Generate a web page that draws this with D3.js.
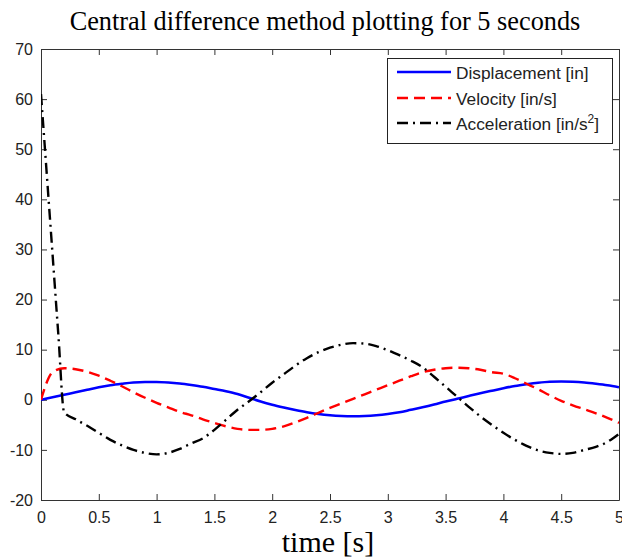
<!DOCTYPE html>
<head>
	<meta charset="utf-8">
	<script src="https://d3js.org/d3.v7.min.js"></script>
	<style>
		body { margin: 0; background: #fff; }
		.title { font-family: "Liberation Serif", "Times New Roman", serif; font-size: 26.3px; fill: #000; }
		.xlabel { font-family: "Liberation Serif", "Times New Roman", serif; font-size: 30px; fill: #000; }
		.tick text { font-family: "Liberation Sans", Arial, sans-serif; font-size: 16px; fill: #222; }
		.legend text { font-family: "Liberation Sans", Arial, sans-serif; font-size: 17.3px; fill: #222; }
	</style>
</head>
<body>
	<script>
		// data
		var time = [0, 0.1, 0.2, 0.3, 0.4, 0.5, 0.6, 0.7, 0.8, 0.9, 1.0,
			1.1, 1.2, 1.3, 1.4, 1.5, 1.6, 1.7, 1.8, 1.9, 2.0,
			2.1, 2.2, 2.3, 2.4, 2.5, 2.6, 2.7, 2.8, 2.9, 3.0,
			3.1, 3.2, 3.3, 3.4, 3.5, 3.6, 3.7, 3.8, 3.9, 4.0,
			4.1, 4.2, 4.3, 4.4, 4.5, 4.6, 4.7, 4.8, 4.9, 5.0];
		var displacement = [0, 0.5, 1.0, 1.5, 2.0, 2.5, 2.9, 3.2, 3.45, 3.55, 3.55,
			3.45, 3.25, 2.95, 2.6, 2.15, 1.7, 1.15, 0.4, -0.35, -1.0,
			-1.55, -2.05, -2.5, -2.85, -3.1, -3.25, -3.3, -3.25, -3.1, -2.85,
			-2.5, -2.0, -1.5, -0.95, -0.35, 0.2, 0.75, 1.3, 1.8, 2.3,
			2.75, 3.1, 3.4, 3.6, 3.65, 3.6, 3.45, 3.2, 2.9, 2.5];
		var velocity = [0, 5.5, 6.3, 6.1, 5.6, 4.8, 3.8, 2.7, 1.5, 0.4, -0.6,
			-1.5, -2.4, -3.1, -3.9, -4.6, -5.3, -5.8, -6.0, -6.0, -5.8,
			-5.3, -4.5, -3.6, -2.6, -1.6, -0.7, 0.2, 1.1, 2.0, 2.9,
			3.8, 4.7, 5.5, 6.0, 6.3, 6.4, 6.3, 6.0, 5.5, 5.2,
			4.3, 3.2, 2.1, 0.9, -0.2, -1.1, -1.9, -2.7, -3.6, -4.6];
		var accelTime = [0, 0.05, 0.1, 0.15, 0.2, 0.3, 0.4, 0.5, 0.6, 0.7, 0.8, 0.9, 1.0,
			1.1, 1.2, 1.3, 1.4, 1.5, 1.6, 1.7, 1.8, 1.9, 2.0,
			2.1, 2.2, 2.3, 2.4, 2.5, 2.6, 2.7, 2.8, 2.9, 3.0,
			3.1, 3.2, 3.3, 3.4, 3.5, 3.6, 3.7, 3.8, 3.9, 4.0,
			4.1, 4.2, 4.3, 4.4, 4.5, 4.6, 4.7, 4.8, 4.9, 5.0];
		var acceleration = [61, 45, 29, 13, -2.5, -3.9, -5.2, -6.6, -8.0, -9.1, -10.0, -10.6, -10.9,
			-10.6, -9.8, -8.7, -7.7, -6.0, -4.0, -2.0, -0.3, 1.5, 3.4,
			5.1, 6.8, 8.3, 9.5, 10.4, 11.0, 11.3, 11.2, 10.7, 9.9,
			8.9, 7.8, 6.5, 4.6, 2.6, 0.6, -1.4, -3.3, -5.0, -6.6,
			-8.0, -9.2, -10.1, -10.6, -10.8, -10.6, -10.0, -9.4, -8.4, -6.8];
		var xTicks = [0, 0.5, 1, 1.5, 2, 2.5, 3, 3.5, 4, 4.5, 5];
		var yTicks = [-20, -10, 0, 10, 20, 30, 40, 50, 60, 70];
		var seriesNames = ["Displacement [in]", "Velocity [in/s]", "Acceleration [in/s"];

		// variables
		var width = 622;
		var height = 560;
		var margin = { top: 49, right: 2, bottom: 60, left: 41 };
		var tickLen = 6;
		var plain = function(d) { return String(d); };

		// scales
		var xScale = d3.scaleLinear()
			.domain([0, 5])
			.range([margin.left, width - margin.right - 1]);
		var yScale = d3.scaleLinear()
			.domain([-20, 70])
			.range([height - margin.bottom, margin.top]);

		// svg
		var svg = d3.select("body")
			.append("svg")
			.attr("width", width)
			.attr("height", height);

		svg.append("defs").append("clipPath")
			.attr("id", "plot")
			.append("rect")
			.attr("x", xScale(0))
			.attr("y", yScale(70))
			.attr("width", xScale(5) - xScale(0))
			.attr("height", yScale(-20) - yScale(70));

		// axes
		var axisX = svg.append("g")
			.attr("transform", "translate(" + [0, yScale(-20)] + ")")
			.call(d3.axisBottom(xScale).tickValues(xTicks).tickSizeInner(-tickLen).tickSizeOuter(0).tickPadding(9).tickFormat(plain));
		var axisXTop = svg.append("g")
			.attr("transform", "translate(" + [0, yScale(70)] + ")")
			.call(d3.axisTop(xScale).tickValues(xTicks).tickSizeInner(-tickLen).tickSizeOuter(0).tickFormat(""));
		var axisY = svg.append("g")
			.attr("transform", "translate(" + [xScale(0), 0] + ")")
			.call(d3.axisLeft(yScale).tickValues(yTicks).tickSizeInner(-tickLen).tickSizeOuter(0).tickPadding(8).tickFormat(plain));
		var axisYRight = svg.append("g")
			.attr("transform", "translate(" + [xScale(5), 0] + ")")
			.call(d3.axisRight(yScale).tickValues(yTicks).tickSizeInner(-tickLen).tickSizeOuter(0).tickFormat(""));

		svg.selectAll(".domain").attr("stroke", "#333");
		svg.selectAll(".tick line").attr("stroke", "#333");
		axisX.selectAll(".tick text").attr("dy", "0.85em");

		// lines
		var plot = svg.append("g").attr("clip-path", "url(#plot)");
		var line = d3.line()
			.x(function(d) { return xScale(d[0]); })
			.y(function(d) { return yScale(d[1]); })
			.curve(d3.curveMonotoneX);

		plot.append("path")
			.datum(d3.zip(time, displacement))
			.attr("d", line)
			.attr("fill", "none")
			.attr("stroke", "#0000ff")
			.attr("stroke-width", 2.6);
		plot.append("path")
			.datum(d3.zip(time, velocity))
			.attr("d", line)
			.attr("fill", "none")
			.attr("stroke", "#ff0000")
			.attr("stroke-width", 2.4)
			.attr("stroke-dasharray", "11,6");
		plot.append("path")
			.datum(d3.zip(accelTime, acceleration))
			.attr("d", line)
			.attr("fill", "none")
			.attr("stroke", "#000")
			.attr("stroke-width", 2.4)
			.attr("stroke-dasharray", "11,5,2,5");

		// legend
		var legend = svg.append("g").attr("class", "legend");
		legend.append("rect")
			.attr("x", 387.5).attr("y", 58.5)
			.attr("width", 225).attr("height", 85)
			.attr("fill", "#fff")
			.attr("stroke", "#222");
		var styles = [
			{ color: "#0000ff", dash: null },
			{ color: "#ff0000", dash: "11,6" },
			{ color: "#000", dash: "11,5,2,5" }
		];
		var rowY = [72, 98, 123];
		seriesNames.forEach(function(name, i) {
			legend.append("line")
				.attr("x1", 397).attr("x2", 451)
				.attr("y1", rowY[i]).attr("y2", rowY[i])
				.attr("stroke", styles[i].color)
				.attr("stroke-width", 2.4)
				.attr("stroke-dasharray", styles[i].dash);
			var t = legend.append("text")
				.attr("x", 456)
				.attr("y", rowY[i] + 7)
				.text(name);
			if (i == 2) {
				t.append("tspan").attr("dy", -7).attr("font-size", "12px").text("2");
				t.append("tspan").attr("dy", 7).text("]");
			}
		});

		// titles
		svg.append("text")
			.text("Central difference method plotting for 5 seconds")
			.attr("x", 325)
			.attr("y", 30)
			.attr("text-anchor", "middle")
			.attr("class", "title");
		svg.append("text")
			.text("time [s]")
			.attr("x", 328)
			.attr("y", 552)
			.attr("text-anchor", "middle")
			.attr("class", "xlabel");
	</script>
</body>
</html>
